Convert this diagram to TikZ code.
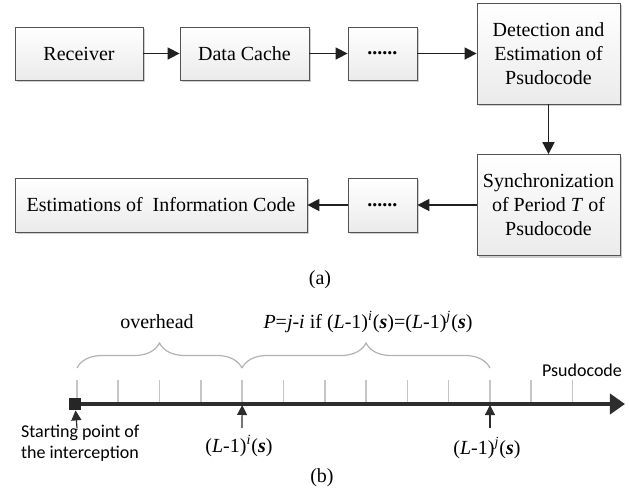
\documentclass[tikz,border=0pt]{standalone}
\usepackage{fontspec}
\setmainfont{Liberation Serif}
\newfontfamily\labelfont{Carlito}
\usepackage{tikz}
\usetikzlibrary{arrows.meta,positioning,shadows}
\usetikzlibrary{decorations.pathreplacing}
\tikzset{every shadow/.style={fill=gray!55,opacity=0.7,shadow xshift=1.2pt,shadow yshift=-1.2pt}}
\tikzset{blk/.style={draw=gray!65!black,top color=white,bottom color=gray!16,drop shadow,align=center,inner sep=0pt}}
\newcommand{\Lpow}[1]{(\textit{L}-1)\textsuperscript{\textit{#1}}(\textbf{\textit{s}})}

\begin{document}
\begin{tikzpicture}[x=0.5pt,y=-0.5pt,font=\fontsize{10}{12}\selectfont,
  flow/.style={-{Triangle[length=6pt,width=6pt]},color=gray!25!black,line width=0.8pt},
  ptr/.style={-{Triangle[length=5pt,width=5pt]},color=gray!35!black,line width=0.6pt},
  tick/.style={draw=gray!45,line width=0.8pt},
  brc/.style={draw=gray!60,line width=0.6pt,decorate,decoration={brace,amplitude=12.5pt}},
  sans/.style={font=\labelfont\fontsize{9}{10.5}\selectfont}]
% \draw[help lines] (0,0) grid[step=50] (629,495);
\useasboundingbox (0,0) rectangle (629,495);
%
\node (rec) [blk,minimum width=64pt,minimum height=26.5pt] at (79,53.5) {Receiver};
\node (cache) [blk,minimum width=64.5pt,minimum height=26.5pt] at (244.5,53.5) {Data Cache};
\node (dotsA) [blk,minimum width=34.5pt,minimum height=26.5pt] at (382.5,53.5) {\textbf{......}};
\node (det) [blk,minimum width=71.5pt,minimum height=50.5pt] at (548.5,53.5) {Detection and\\Estimation of\\Psudocode};
\node (sync) [blk,minimum width=71.5pt,minimum height=50.5pt] at (548.5,205) {Synchronization\\of Period \textit{T} of\\Psudocode};
\node (dotsB) [blk,minimum width=34.5pt,minimum height=27pt] at (382.5,205) {\textbf{......}};
\node (info) [blk,minimum width=146pt,minimum height=27pt] at (161,205) {Estimations of\ \ Information Code};
%
\path[flow] (rec) edge (cache);
\path[flow] (cache) edge (dotsA);
\path[flow] (dotsA) edge (det);
\path[flow] (det) edge (sync);
\path[flow] (sync) edge (dotsB);
\path[flow] (dotsB) edge (info);
%
\node (capA) at (320,280) {(a)};
%
\node (ovh) at (157,322) {overhead};
\node (per) at (368,322) {\textit{P}=\textit{j}-\textit{i} if \Lpow{i}=\Lpow{j}};
%
\foreach \k in {0,...,12}{
  \draw[tick] (77+41.3*\k,380) -- (77+41.3*\k,403);
  \coordinate (t\k) at (77+41.3*\k,405);
}
\coordinate (b0) at (77,368);
\coordinate (b4) at (242,368);
\coordinate (b10) at (490,368);
\draw[brc] (b0) -- (b4);
\draw[brc] (b4) -- (b10);
%
\coordinate (start) at (70,404);
\coordinate (stop) at (625,404);
\draw[-{Triangle[length=7.5pt,width=10pt]},color=gray!35!black,line width=2pt] (start) -- (stop);
\node (sq) [fill=gray!30!black,minimum size=6pt,inner sep=0pt] at (75,404) {};
%
\coordinate (pA) at (77,428);
\coordinate (pB) at (242,428);
\coordinate (pC) at (490,428);
\path[ptr] (pA) edge (sq);
\path[ptr] (pB) edge (t4);
\path[ptr] (pC) edge (t10);
%
\node (lblA) [sans,align=left,anchor=west] at (14,443) {Starting point of\\the interception};
\node (lblB) at (239,446) {\Lpow{i}};
\node (lblC) at (487,448) {\Lpow{j}};
\node (lblP) [sans] at (582,370) {Psudocode};
\node (capB) at (322,478) {(b)};
\end{tikzpicture}
\end{document}
